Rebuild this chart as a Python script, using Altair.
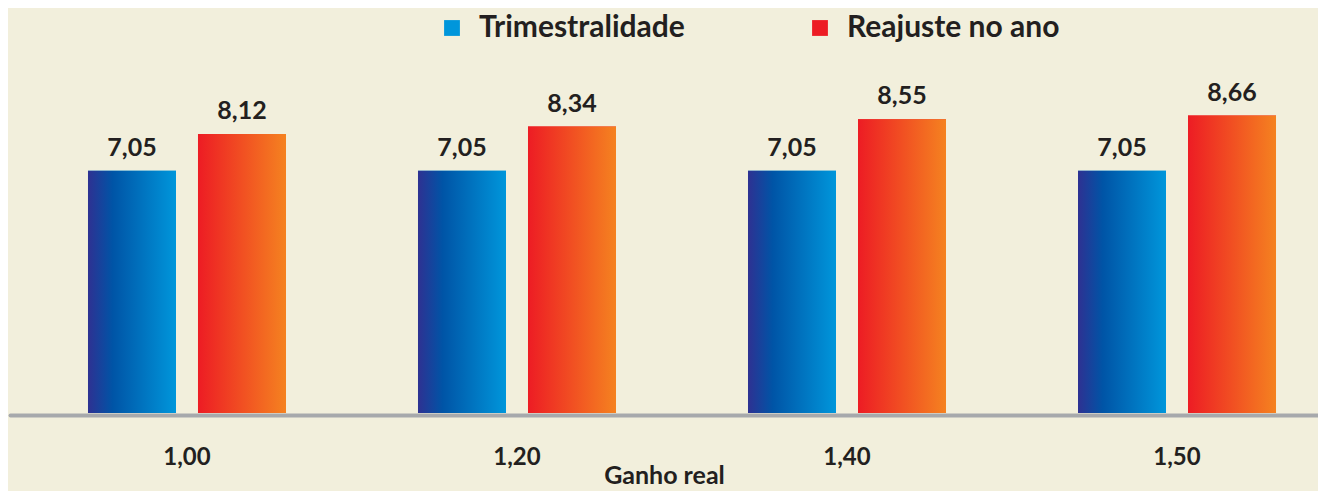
import altair as alt
import pandas as pd

categorias = ["1,00", "1,20", "1,40", "1,50"]
series = ["Trimestralidade", "Reajuste no ano"]
trimestralidade = [7.05, 7.05, 7.05, 7.05]
reajuste = [8.12, 8.34, 8.55, 8.66]

rows = []
for i, c in enumerate(categorias):
    rows.append({"ganho": c, "serie": series[0], "valor": trimestralidade[i]})
    rows.append({"ganho": c, "serie": series[1], "valor": reajuste[i]})
df = pd.DataFrame(rows)

BG = "#f2efdc"
TXT = "#231f20"
FONT = "Lato"

grad_blue = {
    "gradient": "linear", "x1": 0, "y1": 0, "x2": 1, "y2": 0,
    "stops": [
        {"offset": 0, "color": "#2e3192"},
        {"offset": 0.28, "color": "#0054a6"},
        {"offset": 1, "color": "#0096db"},
    ],
}
grad_red = {
    "gradient": "linear", "x1": 0, "y1": 0, "x2": 1, "y2": 0,
    "stops": [
        {"offset": 0, "color": "#ed1c24"},
        {"offset": 1, "color": "#f58220"},
    ],
}

x_enc = alt.X(
    "ganho:N",
    sort=categorias,
    scale=alt.Scale(paddingInner=0.4, paddingOuter=0.1818, align=0.65),
    axis=alt.Axis(
        title="Ganho real",
        titleFont=FONT, titleFontSize=25, titleFontWeight="bold", titleColor=TXT,
        titleBaseline="alphabetic", titleY=68,
        labelFont=FONT, labelFontSize=24, labelFontWeight="bold", labelColor=TXT,
        labelPadding=30, labelAngle=0,
        ticks=False, domainColor="#a7a9ac", domainWidth=4, domainCap="round",
        offset=2,
    ),
)
xoff_enc = alt.XOffset("serie:N", sort=series, scale=alt.Scale(domain=series, paddingInner=0.2, paddingOuter=0))
y_enc = alt.Y("valor:Q", scale=alt.Scale(domain=[0, 11.79], nice=False, zero=True), axis=None)

base = alt.Chart(df)

legend_bars = base.mark_bar().encode(
    x=x_enc, xOffset=xoff_enc, y=y_enc,
    color=alt.Color(
        "serie:N",
        sort=series,
        scale=alt.Scale(domain=series, range=["#0096db", "#ed1c24"]),
        legend=alt.Legend(
            title=None, orient="none", legendX=427, legendY=5, direction="horizontal",
            symbolType="square", symbolSize=250, symbolStrokeWidth=0, symbolOpacity=1,
            labelFont=FONT, labelFontSize=30, labelFontWeight="bold", labelColor=TXT,
            labelLimit=500, labelOffset=12, columnPadding=120,
        ),
    ),
)

grad_bars = base.mark_bar().encode(
    x=x_enc, xOffset=xoff_enc, y=y_enc,
    fill=alt.condition(
        "datum.serie == 'Trimestralidade'", alt.value(grad_blue), alt.value(grad_red)
    ),
)

labels = base.transform_calculate(
    rotulo="replace(format(datum.valor, '.2f'), '.', ',')"
).mark_text(
    font=FONT, fontSize=25, fontWeight="bold", color=TXT, baseline="alphabetic", dy=-15
).encode(
    x=x_enc, xOffset=xoff_enc, y=y_enc, text="rotulo:N"
)

chart = alt.layer(legend_bars, grad_bars, labels).properties(
    width=1308,
    height=405,
    background=BG,
    padding={"left": 2, "top": 0, "right": 0, "bottom": 78},
    autosize=alt.AutoSizeParams(type="none"),
).configure_view(stroke=None)

chart.save("out.html", embed_options={"renderer": "svg", "actions": False})
